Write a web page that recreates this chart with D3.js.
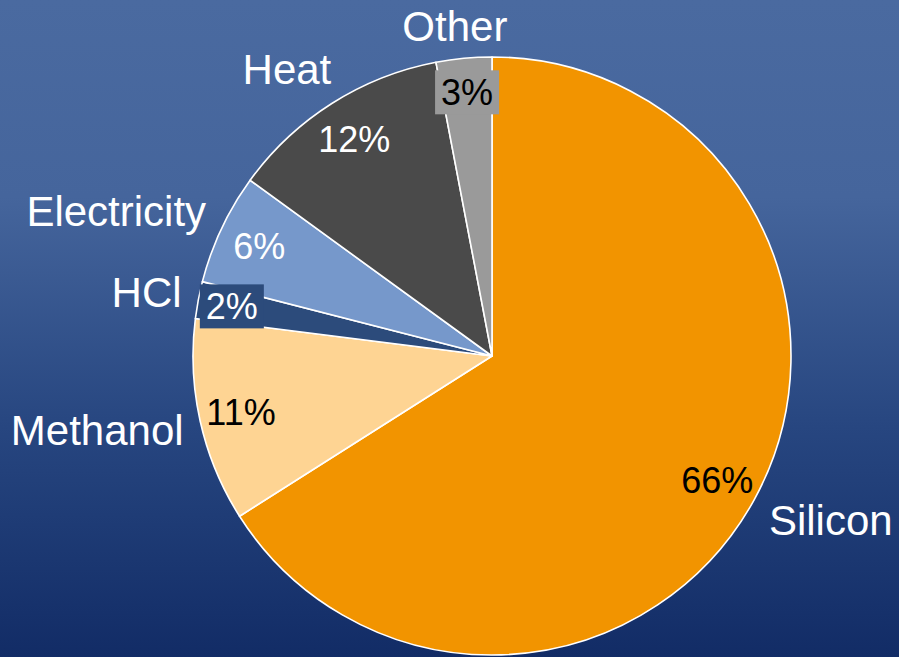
<!DOCTYPE html>
<html>
<head>
<meta charset="utf-8">
<script src="https://cdn.jsdelivr.net/npm/d3@7"></script>
<style>
  html, body { margin: 0; padding: 0; background: #2a4a80; }
  svg { display: block; }
</style>
</head>
<body>
<svg id="chart" width="899" height="657"></svg>
<script>
// ---- data ----
const categories = ["Silicon", "Methanol", "HCl", "Electricity", "Heat", "Other"];
const values = [66, 11, 2, 6, 12, 3];
const percentLabels = ["66%", "11%", "2%", "6%", "12%", "3%"];
const sliceColors = ["#f29400", "#fed493", "#2c4b7b", "#7698cb", "#4a4a4a", "#9a9a9a"];
const percentTextColors = ["#000000", "#000000", "#ffffff", "#ffffff", "#ffffff", "#000000"];

const W = 899, H = 657;
const cx = 492, cy = 356, R = 299;

const svg = d3.select("#chart");

// background gradient
const defs = svg.append("defs");
const grad = defs.append("linearGradient").attr("id", "bg")
  .attr("x1", 0).attr("y1", 0).attr("x2", 0).attr("y2", 1);
[[0, "#4a6aa0"], [0.3, "#45659c"], [0.65, "#274680"], [1, "#122c66"]]
  .forEach(([o, c]) => grad.append("stop").attr("offset", o).attr("stop-color", c));
svg.append("rect").attr("width", W).attr("height", H).attr("fill", "url(#bg)");

const data = categories.map((c, i) => ({
  name: c, value: values[i], label: percentLabels[i],
  color: sliceColors[i], textColor: percentTextColors[i]
}));

const pie = d3.pie().value(d => d.value).sort(null);
const arcs = pie(data);
const arc = d3.arc().innerRadius(0).outerRadius(R);

const g = svg.append("g").attr("transform", `translate(${cx},${cy})`);

g.selectAll("path.slice").data(arcs).enter().append("path")
  .attr("class", "slice")
  .attr("d", arc)
  .attr("fill", d => d.data.color)
  .attr("stroke", "#ffffff")
  .attr("stroke-width", 1.6)
  .attr("stroke-linejoin", "round");

const font = "'Liberation Sans', Arial, sans-serif";
const mid = d => (d.startAngle + d.endAngle) / 2;

// percent labels inside slices
const labelArc = d3.arc().innerRadius(R * 0.86).outerRadius(R * 0.86);
const pctG = g.selectAll("g.pct").data(arcs).enter().append("g")
  .attr("class", "pct")
  .attr("transform", d => {
    const [x, y] = labelArc.centroid(d);
    const k = d.data.value <= 3 ? 1.03 : 1;
    return `translate(${x * k},${y * k})`;
  });

pctG.filter(d => d.data.value <= 3).append("rect")
  .attr("x", -32).attr("y", -22).attr("width", 64).attr("height", 44)
  .attr("fill", d => d.data.color);

pctG.append("text")
  .attr("text-anchor", "middle")
  .attr("dy", "0.36em")
  .attr("font-family", font)
  .attr("font-size", 36)
  .attr("fill", d => d.data.textColor)
  .text(d => d.data.label);

// category labels outside
const R1 = 316;
const catText = g.selectAll("text.cat").data(arcs).enter().append("text")
  .attr("class", "cat")
  .attr("font-family", font)
  .attr("font-size", 42)
  .attr("fill", "#ffffff")
  .attr("text-anchor", "middle")
  .attr("dy", "0.36em")
  .text(d => d.data.name);

catText.each(function(d) {
  const a = mid(d);
  const dx = Math.sin(a), dy = -Math.cos(a);
  const w = this.getBBox().width;
  const x = dx * R1 + Math.sign(dx) * Math.min(1, Math.abs(dx) * 1.5) * w / 2;
  let y = dy * (R1 + 24);
  // keep the label inside the picture
  const minY = 26 - cy;
  if (y < minY) y = minY;
  d3.select(this).attr("x", x).attr("y", y);
});
</script>
</body>
</html>
